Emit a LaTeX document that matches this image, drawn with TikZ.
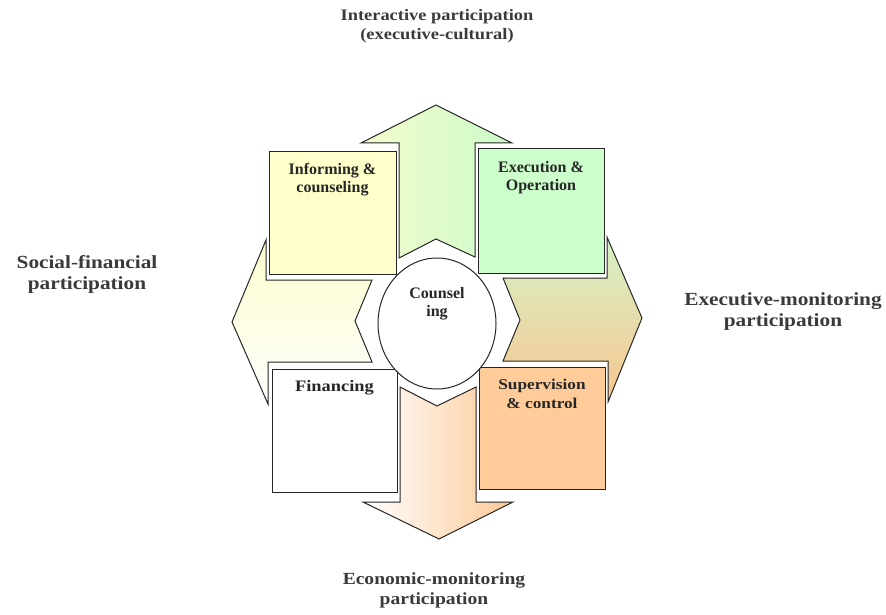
\documentclass[tikz,border=0pt]{standalone}
\usepackage{fontspec}
\setmainfont{Liberation Serif}
\newfontfamily\garfont[FakeStretch=1.15]{Liberation Serif}
\usepackage{tikz}
\usetikzlibrary{shapes.geometric}

\definecolor{lineC}{HTML}{262626}
\definecolor{textC}{HTML}{3A3A3A}
\definecolor{yellowC}{HTML}{FFFFCC}
\definecolor{greenC}{HTML}{CCFFCC}
\definecolor{orangeC}{HTML}{FFCC99}
\definecolor{upL}{HTML}{F4FCCC}
\definecolor{upR}{HTML}{CCFACA}
\definecolor{rtT}{HTML}{D6F2C6}
\definecolor{rtM}{HTML}{E6E4AC}
\definecolor{rtB}{HTML}{F7C690}
\definecolor{dnR}{HTML}{FBC998}
\definecolor{lfT}{HTML}{FCFCCC}

\begin{document}
\begin{tikzpicture}[x=1pt, y=-1pt, line width=1pt, draw=lineC,
    arrowshape/.style = {draw=lineC, line join=miter},
    box/.style = {draw=lineC, rectangle, inner sep=0pt},
    boxtext/.style = {anchor=north, align=center, inner sep=0pt, font=\fontsize{16}{18}\selectfont\bfseries, text=lineC},
    outer/.style = {align=center, inner sep=0pt, font=\garfont\fontsize{18.5}{21}\selectfont\bfseries, text=textC}]
    \useasboundingbox (0,0) rectangle (886,615);

    % four arrows
    \path[arrowshape, left color=upL, right color=upR] (436,105) -- (512,143) -- (475,143) -- (475,257) -- (436,239) -- (399,258) -- (399,143) -- (361,143) -- cycle;
    \path[arrowshape, top color=lfT, bottom color=white] (232,322) -- (266,240) -- (266,280) -- (372,280) -- (355,321) -- (372,362) -- (268,362) -- (268,404) -- cycle;
    \path[arrowshape, top color=rtT, middle color=rtM, bottom color=rtB] (642,318) -- (608,402) -- (608,361) -- (503,361) -- (520,320) -- (503,278) -- (607,278) -- (607,237) -- cycle;
    \path[arrowshape, left color=white, right color=dnR] (439,539) -- (363,502) -- (400,502) -- (400,387) -- (437,406) -- (476,387) -- (476,502) -- (513,502) -- cycle;

    % boxes
    \node[box, fill=yellowC, minimum width=127pt, minimum height=122pt] (inf) at (332.5,213) {};
    \node[box, fill=greenC, minimum width=126pt, minimum height=124pt] (exe) at (541,211) {};
    \node[box, fill=white, minimum width=125pt, minimum height=123pt] (fin) at (334.5,430.5) {};
    \node[box, fill=orangeC, minimum width=126pt, minimum height=122pt] (sup) at (542,428) {};
    \node[draw=lineC, fill=white, ellipse, minimum width=118pt, minimum height=131pt, inner sep=0pt] (coun) at (437,323.5) {};

    \node[boxtext] (inftxt) at ([yshift=-11pt]inf.north) {Informing \&\\counseling};
    \node[boxtext] (exetxt) at ([yshift=-12pt]exe.north) {Execution \&\\Operation};
    \node[boxtext, font=\garfont\fontsize{16}{18}\selectfont\bfseries] (fintxt) at ([yshift=-11pt]fin.north) {Financing};
    \node[boxtext, font=\garfont\fontsize{15}{19}\selectfont\bfseries] (suptxt) at ([yshift=-12pt]sup.north) {Supervision\\\& control};
    \node[boxtext] (countxt) at ([yshift=-29pt]coun.north) {Counsel\\ing};

    % outer labels
    \node[outer, font=\garfont\fontsize{16}{19}\selectfont\bfseries] (top) at (437,26) {Interactive participation\\(executive-cultural)};
    \node[outer] (left) at (87,274) {Social-financial\\participation};
    \node[outer] (right) at (783,312) {Executive-monitoring\\participation};
    \node[outer, font=\garfont\fontsize{17}{20}\selectfont\bfseries] (bottom) at (434,590) {Economic-monitoring\\participation};
\end{tikzpicture}
\end{document}
